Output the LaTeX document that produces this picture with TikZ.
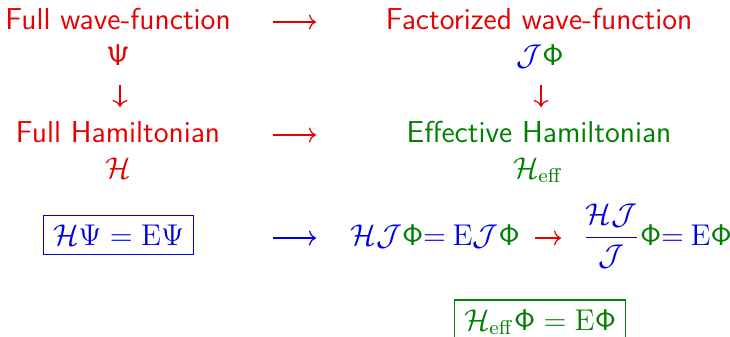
\documentclass[tikz,border=0pt]{standalone}
\usetikzlibrary{arrows.meta}
\definecolor{myred}{RGB}{230,0,0}
\definecolor{mygreen}{RGB}{0,128,0}
\definecolor{myblue}{RGB}{0,0,230}
\newcommand{\sfPhi}{\mathsf{\Phi}}
\newcommand{\sfPsi}{\mathsf{\Psi}}
\begin{document}
\begin{tikzpicture}[x=0.4pt,y=-0.4pt,
  every node/.style={inner sep=0pt, anchor=base, font=\fontsize{12.1}{14.5}\selectfont\sffamily},
  eqbox/.style={draw, inner sep=3.7pt, line width=0.5pt},
  conn/.style={line width=0.5pt, -{Computer Modern Rightarrow[length=2.8pt,width=6pt]}}]
\useasboundingbox (0,0) rectangle (730,336);
% left column
\node[text=myred] (fw) at (118,29) {Full wave-function};
\node[text=myred] (psi) at (118,65) {$\sfPsi$};
\coordinate (d1s) at (120,85);
\coordinate (d1e) at (120,107);
\node[text=myred] (fh) at (118,142) {Full Hamiltonian};
\node[text=myred] (hc) at (118,178) {$\mathcal{H}$};
\node[eqbox, draw=myblue, text=myblue] (b1) at (118.5,245) {$\mathcal{H}\Psi=\mathrm{E}\Psi$};
% horizontal arrows
\coordinate (h1s) at (273,22); \coordinate (h1e) at (316,22);
\coordinate (h2s) at (273,135); \coordinate (h2e) at (316,135);
\coordinate (h3s) at (273,238); \coordinate (h3e) at (316,238);
% right column
\node[text=myred] (fact) at (539,29) {Factorized wave-function};
\node (jp) at (540,65) {$\color{myblue}\mathcal{J}\color{mygreen}\sfPhi$};
\coordinate (d2s) at (541,85);
\coordinate (d2e) at (541,107);
\node[text=mygreen] (eff) at (539,142) {Effective Hamiltonian};
\node[text=mygreen] (heff) at (538,178) {$\mathcal{H}_{\mathrm{eff}}$};
\node[anchor=base west] (eq2) at (350,245) {$\color{myblue}\mathcal{H}\mathcal{J}{\color{mygreen}\sfPhi}{=}\mkern4mu\mathrm{E}\mathcal{J}{\color{mygreen}\sfPhi}$};
\coordinate (r1s) at (535,238); \coordinate (r1e) at (561,238);
\node[anchor=base west] (eq3) at (582,245) {$\color{myblue}\displaystyle\frac{\mathcal{H}\mathcal{J}}{\mathcal{J}}{\color{mygreen}\sfPhi}{=}\mkern4mu\mathrm{E}{\color{mygreen}\sfPhi}$};
\node[eqbox, draw=mygreen, text=mygreen] (b2) at (540,330) {$\mathcal{H}_{\mathrm{eff}}\sfPhi=\mathrm{E}\sfPhi$};
% connectors
\draw[conn, myred] (d1s) -- (d1e);
\draw[conn, myred] (d2s) -- (d2e);
\draw[conn, myred] (h1s) -- (h1e);
\draw[conn, myred] (h2s) -- (h2e);
\draw[conn, myblue] (h3s) -- (h3e);
\draw[conn, myred] (r1s) -- (r1e);
\end{tikzpicture}
\end{document}
